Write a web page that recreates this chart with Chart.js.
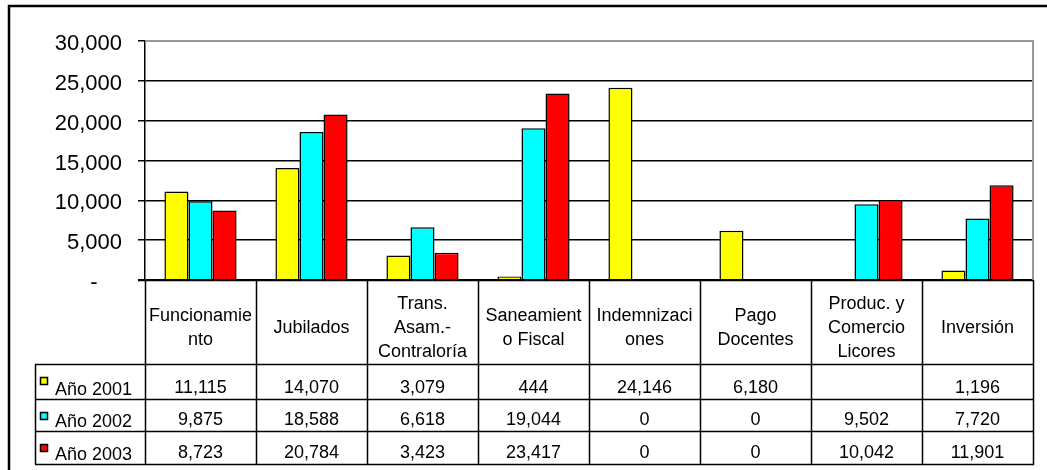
<!DOCTYPE html>
<html>
<head>
<meta charset="utf-8">
<title>Gastos 2001 - 2003</title>
<script src="https://cdn.jsdelivr.net/npm/chart.js@4.4.1/dist/chart.umd.min.js"></script>
<style>
    body { margin: 0; background: #fff; }
    #wrap { width: 1047px; height: 470px; }
</style>
</head>
<body>
<div id="wrap"><canvas id="myChart" width="1047" height="470"></canvas></div>
<script>
// category labels, already wrapped the way the table shows them
const categories = [
    ['Funcionamie', 'nto'],
    ['Jubilados'],
    ['Trans.', 'Asam.-', 'Contraloría'],
    ['Saneamient', 'o Fiscal'],
    ['Indemnizaci', 'ones'],
    ['Pago', 'Docentes'],
    ['Produc. y', 'Comercio', 'Licores'],
    ['Inversión']
];
const seriesNames = ['Año 2001', 'Año 2002', 'Año 2003'];
const values2001 = [11115, 14070, 3079, 444, 24146, 6180, null, 1196];
const values2002 = [9875, 18588, 6618, 19044, 0, 0, 9502, 7720];
const values2003 = [8723, 20784, 3423, 23417, 0, 0, 10042, 11901];
const yTicks = [0, 5000, 10000, 15000, 20000, 25000, 30000];

const seriesValues = [values2001, values2002, values2003];
const colors = ['#ffff00', '#00ffff', '#ff0000'];
const FONT = "'Liberation Sans', Arial, sans-serif";

function fmt(v) {
    if (v === null || v === undefined) return '';
    return v.toLocaleString('en-US');
}

// draws the frame and the data table under the plot
const dataTable = {
    id: 'dataTable',
    afterDraw(chart) {
        const ctx = chart.ctx;
        const area = chart.chartArea;
        const xScale = chart.scales.x;
        const step = (area.right - area.left) / categories.length;
        const rowLines = [364, 399, 431, 464];
        const left = 35;

        ctx.save();

        // outer frame (cut at right / bottom like the original)
        ctx.strokeStyle = '#000';
        ctx.lineWidth = 2.5;
        ctx.beginPath();
        ctx.moveTo(9, 470);
        ctx.lineTo(9, 6);
        ctx.lineTo(1047, 6);
        ctx.stroke();

        // plot area border, grey
        ctx.strokeStyle = '#999';
        ctx.lineWidth = 2;
        ctx.beginPath();
        ctx.moveTo(area.left, area.top);
        ctx.lineTo(area.right, area.top);
        ctx.lineTo(area.right, area.bottom);
        ctx.stroke();

        // table grid
        ctx.strokeStyle = '#000';
        ctx.lineWidth = 1.5;
        ctx.beginPath();
        ctx.moveTo(area.left - 7, Math.round(area.bottom) + 0.5);
        ctx.lineTo(area.right, Math.round(area.bottom) + 0.5);
        rowLines.forEach(y => {
            ctx.moveTo(left, y + 0.5);
            ctx.lineTo(area.right + 1, y + 0.5);
        });
        ctx.moveTo(left + 0.5, rowLines[0]);
        ctx.lineTo(left + 0.5, rowLines[rowLines.length - 1]);
        for (let i = 0; i <= categories.length; i++) {
            const bx = Math.round(xScale.getPixelForValue(0) - step / 2 + i * step) + 0.5;
            ctx.moveTo(bx, area.bottom);
            ctx.lineTo(bx, rowLines[rowLines.length - 1] + 1);
        }
        ctx.stroke();

        ctx.fillStyle = '#000';
        ctx.font = '18px ' + FONT;
        ctx.textAlign = 'center';
        ctx.textBaseline = 'alphabetic';

        // header row: category names
        const headCenter = 327;
        const pitch = 24;
        categories.forEach((lines, i) => {
            const cx = xScale.getPixelForValue(i);
            lines.forEach((line, k) => {
                const cy = headCenter - (lines.length - 1) * pitch / 2 + k * pitch;
                ctx.fillText(line, cx, cy + 6);
            });
        });

        // value rows
        ctx.lineWidth = 1.5;
        seriesValues.forEach((vals, s) => {
            const top = rowLines[s];
            const bottom = rowLines[s + 1];
            vals.forEach((v, i) => {
                ctx.fillText(fmt(v), xScale.getPixelForValue(i), bottom - 6);
            });

            // legend key + name
            ctx.fillStyle = colors[s];
            ctx.fillRect(40, top + 13, 8, 8);
            ctx.strokeRect(40.5, top + 13.5, 7, 7);
            ctx.fillStyle = '#000';
            ctx.textAlign = 'left';
            ctx.fillText(seriesNames[s], 55, bottom - 4);
            ctx.textAlign = 'center';
        });

        ctx.restore();
    }
};

document.addEventListener("DOMContentLoaded", function () {

    const datasets = seriesNames.map((name, s) => ({
        label: name,
        data: seriesValues[s],
        backgroundColor: colors[s],
        borderColor: '#000',
        borderWidth: 1.5,
        categoryPercentage: 0.65,
        barPercentage: 1.0
    }));

    new Chart("myChart", {
        type: "bar",
        data: {
            labels: categories,
            datasets: datasets
        },
        options: {
            responsive: false,
            animation: false,
            devicePixelRatio: 1,
            layout: {
                padding: { left: 0, top: 41, right: 14, bottom: 190 }
            },
            plugins: {
                legend: { display: false },
                tooltip: { enabled: false }
            },
            scales: {
                x: {
                    display: false,
                    offset: true
                },
                y: {
                    min: 0,
                    max: 30000,
                    afterBuildTicks: function (scale) {
                        scale.ticks = yTicks.map(v => ({ value: v }));
                    },
                    afterFit: function (scale) {
                        scale.width = 145;
                    },
                    grid: {
                        color: ctx => (ctx.tick && ctx.tick.value === 30000) ? '#999' : '#000',
                        tickColor: '#000',
                        tickLength: 7,
                        lineWidth: 1.5
                    },
                    border: { display: true, color: '#000', width: 1.5 },
                    ticks: {
                        color: '#000',
                        padding: 16,
                        labelOffset: 3,
                        font: { family: FONT, size: 22 },
                        callback: function (value) {
                            return value === 0 ? '-    ' : fmt(value);
                        }
                    }
                }
            }
        },
        plugins: [dataTable]
    });
});
</script>
</body>
</html>
